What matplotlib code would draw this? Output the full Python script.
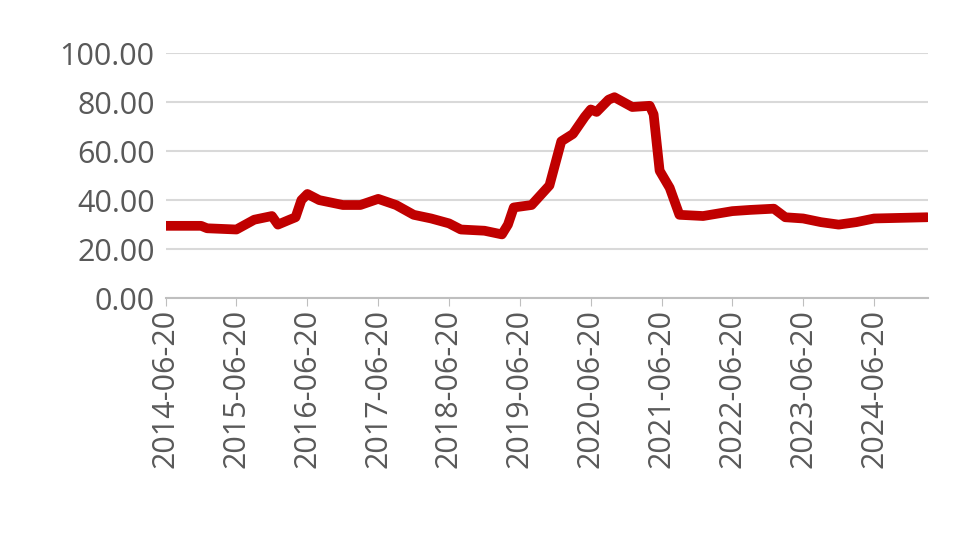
import matplotlib
matplotlib.use("Agg")
import matplotlib.pyplot as plt
import matplotlib.dates as mdates
import pandas as pd

dates = ["2014-06-20", "2014-12-20", "2015-01-20", "2015-06-20", "2015-09-20", "2015-12-20",
         "2016-01-20", "2016-03-20", "2016-04-20", "2016-05-20", "2016-06-20", "2016-08-20",
         "2016-12-20", "2017-03-20", "2017-06-20", "2017-09-20", "2017-12-20", "2018-03-20",
         "2018-06-20", "2018-08-20", "2018-12-20", "2019-03-20", "2019-04-20", "2019-05-20",
         "2019-08-20", "2019-11-20", "2020-01-20", "2020-03-20", "2020-05-20", "2020-06-20",
         "2020-07-20", "2020-09-20", "2020-10-20", "2021-01-20", "2021-04-20", "2021-05-10",
         "2021-06-10", "2021-08-01", "2021-09-20", "2022-01-20", "2022-06-20", "2022-09-20",
         "2023-01-20", "2023-03-20", "2023-06-20", "2023-09-20", "2023-12-20", "2024-03-20",
         "2024-06-20", "2025-03-20"]
values = [29.5, 29.5, 28.5, 28, 32, 33.5,
          30, 32, 33, 40, 42.5, 40,
          38, 38, 40.5, 38, 34, 32.5,
          30.5, 28, 27.5, 26, 30, 37,
          38, 46, 64, 67, 74, 77,
          76, 81, 82, 78, 78.5, 75,
          52, 45, 34, 33.5, 35.5, 36,
          36.5, 33, 32.5, 31, 30, 31,
          32.5, 33]
tick_dates = [f"{y}-06-20" for y in range(2014, 2025)]

plt.rcParams["font.family"] = ["Open Sans", "DejaVu Sans"]
fig = plt.figure(figsize=(9.8, 5.42), dpi=100)
ax = fig.add_axes([0.169, 0.45, 0.778, 0.452])
ax.plot(pd.to_datetime(dates), values, color="#C00000", lw=7, solid_capstyle="round")

ax.set_ylim(0, 100)
ax.set_yticks(range(0, 101, 20))
ax.set_yticklabels([f"{v:.2f}" for v in range(0, 101, 20)])
ax.set_xlim(pd.Timestamp("2014-06-20"), pd.Timestamp("2025-03-25"))
ax.set_xticks(pd.to_datetime(tick_dates))
ax.xaxis.set_major_formatter(mdates.DateFormatter("%Y-%m-%d"))
ax.tick_params(axis="x", rotation=90, labelsize=22, colors="#595959", length=6, color="#BFBFBF", pad=2)
ax.tick_params(axis="y", labelsize=22, colors="#595959", length=0, pad=8)
ax.grid(axis="y", color="#D9D9D9", lw=1.5)
ax.set_axisbelow(True)
for s in ["top", "right", "left"]:
    ax.spines[s].set_visible(False)
ax.spines["bottom"].set_color("#BFBFBF")
ax.spines["bottom"].set_linewidth(1.5)

fig.savefig("out.png")
